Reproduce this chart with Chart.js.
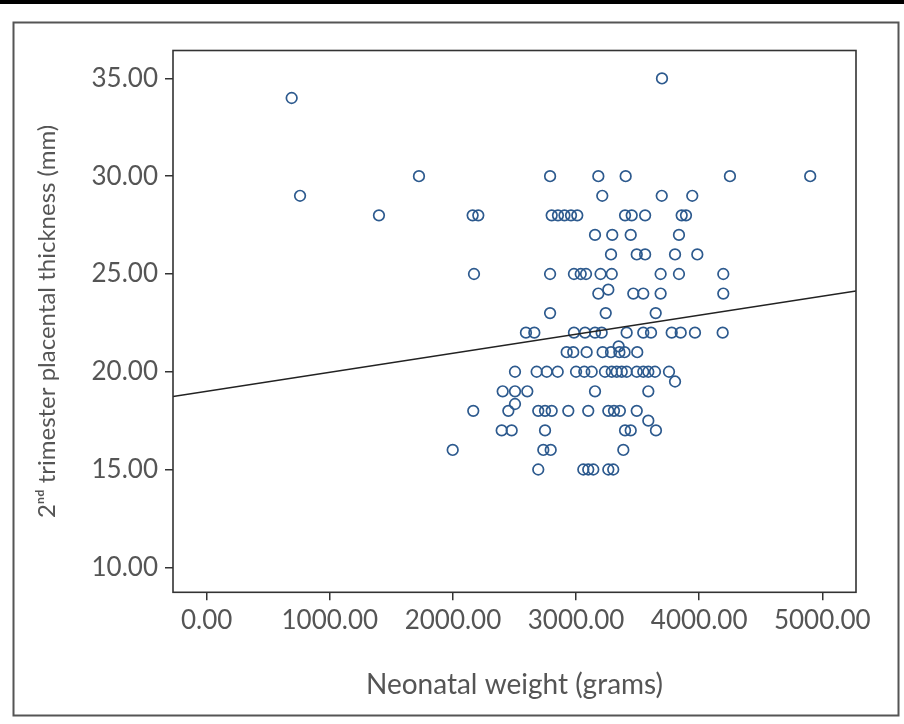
<!DOCTYPE html>
<html>
<head>
<meta charset="utf-8">
<script src="https://cdn.jsdelivr.net/npm/chart.js@4.4.1/dist/chart.umd.min.js"></script>
<style>
html,body{margin:0;padding:0;background:#fff;}
#wrap{position:relative;width:904px;height:724px;}
canvas{display:block;}
</style>
</head>
<body>
<div id="wrap"><canvas id="c" width="904" height="724"></canvas></div>
<script>
// Neonatal weight (grams)
const weights = [
  690, 758, 1399, 1724, 3698, 4902, 4250,
  2789, 3181, 3403,
  3213, 3696, 3944,
  2160, 2206, 2802, 2853, 2906, 2959, 3010, 3398, 3452, 3561, 3858, 3893,
  3154, 3294, 3444, 3836,
  3284, 3493, 3561, 3804, 3985,
  2171, 2789, 2983, 3038, 3081, 3199, 3290, 3687, 3836, 4196,
  3181, 3465, 3546, 3687, 4196, 3262,
  2789, 3241, 3647,
  2593, 2661, 2983, 3073, 3154, 3208, 3411, 3546, 3609, 3777, 3850, 3966, 4191,
  2924, 2977, 3086, 3216, 3284, 3352, 3394, 3497, 3346,
  2504, 2680, 2762, 2851, 3000, 3067, 3127, 3235, 3290, 3330, 3371, 3411, 3493, 3546, 3587, 3641, 3755,
  3804,
  2404, 2504, 2604, 3154, 3587,
  2504,
  2165, 2450, 2693, 2748, 2802, 2937, 3099, 3262, 3308, 3356, 3493,
  3587,
  2396, 2477, 2748, 3398, 3444, 3649,
  1998, 2734, 2794, 3384,
  2693, 3059, 3099, 3140, 3262, 3302
];
// 2nd trimester placental thickness (mm)
const thickness = [
  34, 29, 28, 30, 35, 30, 30,
  30, 30, 30,
  29, 29, 29,
  28, 28, 28, 28, 28, 28, 28, 28, 28, 28, 28, 28,
  27, 27, 27, 27,
  26, 26, 26, 26, 26,
  25, 25, 25, 25, 25, 25, 25, 25, 25, 25,
  24, 24, 24, 24, 24, 24.2,
  23, 23, 23,
  22, 22, 22, 22, 22, 22, 22, 22, 22, 22, 22, 22, 22,
  21, 21, 21, 21, 21, 21, 21, 21, 21.3,
  20, 20, 20, 20, 20, 20, 20, 20, 20, 20, 20, 20, 20, 20, 20, 20, 20,
  19.5,
  19, 19, 19, 19, 19,
  18.35,
  18, 18, 18, 18, 18, 18, 18, 18, 18, 18, 18,
  17.5,
  17, 17, 17, 17, 17, 17,
  16, 16, 16, 16,
  15, 15, 15, 15, 15, 15
];
// Fit line endpoints (at axis limits)
const fitX = [-274, 5274];
const fitY = [18.73, 24.13];
const xTickValues = [0, 1000, 2000, 3000, 4000, 5000];
const yTickValues = [10, 15, 20, 25, 30, 35];
const xTitle = 'Neonatal weight (grams)';
const yTitle = '2ⁿᵈ trimester placental thickness (mm)';

const points = weights.map((w, i) => ({x: w, y: thickness[i]}));
const fitLine = fitX.map((x, i) => ({x: x, y: fitY[i]}));

const TEXT = '#555555';
const AXIS = '#333333';
const FONT = 'Lato';

const framePlugin = {
  id: 'frame',
  beforeDraw(chart) {
    const ctx = chart.ctx;
    ctx.save();
    ctx.fillStyle = '#ffffff';
    ctx.fillRect(0, 0, chart.width, chart.height);
    ctx.fillStyle = '#000000';
    ctx.fillRect(0, 0, chart.width, 4);
    ctx.strokeStyle = '#555555';
    ctx.lineWidth = 2;
    ctx.strokeRect(13.5, 22.5, 885, 693);
    ctx.restore();
  },
  afterDraw(chart) {
    const a = chart.chartArea;
    const ctx = chart.ctx;
    ctx.save();
    ctx.strokeStyle = AXIS;
    ctx.lineWidth = 1.6;
    ctx.strokeRect(a.left, a.top, a.right - a.left, a.bottom - a.top);
    ctx.restore();
  }
};

new Chart(document.getElementById('c'), {
  type: 'scatter',
  data: {
    datasets: [
      {
        type: 'line',
        data: fitLine,
        borderColor: '#222222',
        borderWidth: 1.5,
        pointRadius: 0,
        fill: false,
        tension: 0,
        order: 0
      },
      {
        data: points,
        pointStyle: 'circle',
        pointRadius: 5.3,
        pointBorderWidth: 1.7,
        borderColor: '#2d5a8e',
        backgroundColor: 'rgba(0,0,0,0)',
        pointBackgroundColor: 'rgba(0,0,0,0)',
        order: 1
      }
    ]
  },
  options: {
    responsive: false,
    animation: false,
    devicePixelRatio: 1,
    layout: {padding: {left: 0, top: 50.5, right: 48, bottom: 0}},
    plugins: {legend: {display: false}, tooltip: {enabled: false}},
    scales: {
      x: {
        type: 'linear',
        min: -274,
        max: 5274,
        afterBuildTicks: s => { s.ticks = xTickValues.map(v => ({value: v})); },
        afterFit: s => { s.height = 724 - 592.3; },
        border: {display: false},
        grid: {display: true, drawOnChartArea: false, drawTicks: true, tickLength: 8, color: AXIS, lineWidth: 1.5},
        ticks: {
          color: TEXT,
          font: {family: FONT, size: 26},
          padding: 5,
          maxRotation: 0,
          callback: v => Number(v).toFixed(2)
        },
        title: {
          display: true,
          text: xTitle,
          color: TEXT,
          font: {family: FONT, size: 28},
          padding: {top: 0, bottom: 22}
        }
      },
      y: {
        type: 'linear',
        min: 8.72,
        max: 36.43,
        afterBuildTicks: s => { s.ticks = yTickValues.map(v => ({value: v})); },
        afterFit: s => { s.width = 173; },
        border: {display: false},
        grid: {display: true, drawOnChartArea: false, drawTicks: true, tickLength: 8, color: AXIS, lineWidth: 1.5},
        ticks: {
          color: TEXT,
          font: {family: FONT, size: 26},
          padding: 7,
          callback: v => Number(v).toFixed(2)
        },
        title: {
          display: true,
          text: yTitle,
          color: TEXT,
          font: {family: FONT, size: 24},
          padding: {top: 33, bottom: 0}
        }
      }
    }
  },
  plugins: [framePlugin]
});
</script>
</body>
</html>
